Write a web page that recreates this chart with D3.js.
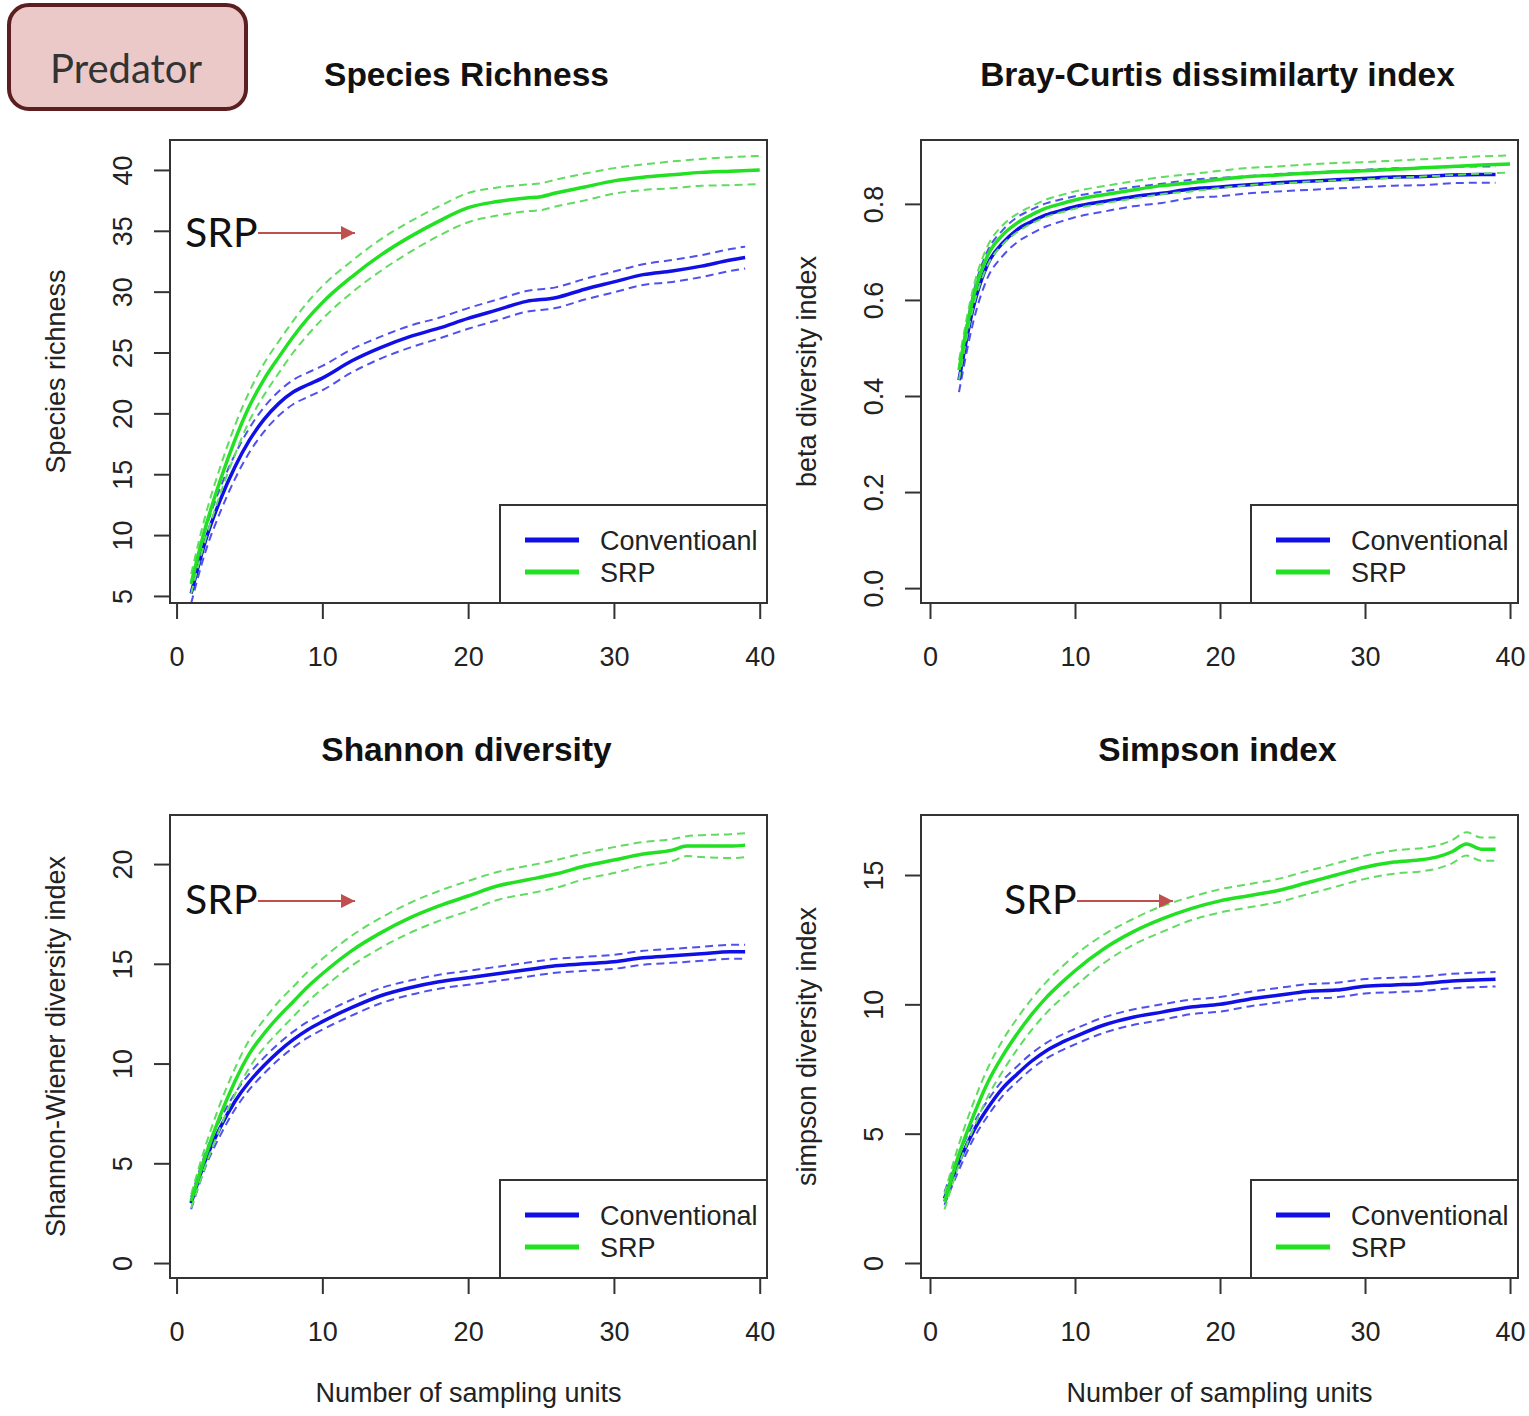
<!DOCTYPE html>
<html>
<head>
<meta charset="utf-8">
<script src="https://cdn.jsdelivr.net/npm/d3@7"></script>
<style>
  body { margin: 0; background: #fff; }
  svg { display: block; }
  text { font-family: "Liberation Sans", Arial, sans-serif; }
</style>
</head>
<body>
<svg width="1529" height="1416"></svg>
<script>
// ---- data (x = number of sampling units) ----
const xConv = [1,2,3,4,5,6,7,8,9,10,12,14,16,18,20,22,24,26,28,30,32,34,36,38,39];

// Species richness
const richConv   = [5.2,9.6,12.9,15.6,17.8,19.5,20.8,21.75,22.35,22.9,24.3,25.4,26.3,27.0,27.8,28.5,29.2,29.5,30.2,30.8,31.4,31.7,32.1,32.6,32.8];
const richConvCi = [0.8,0.9,1.0,1.0,1.0,1.0,1.0,1.0,1.0,1.0,0.95,0.9,0.9,0.85,0.85,0.85,0.85,0.85,0.85,0.85,0.85,0.9,0.9,0.9,0.9];
const richSrpX   = [1,2,3,4,5,6,7,8,9,10,12,14,16,18,20,22,24,25,26,28,30,32,34,36,38,40];
const richSrp    = [6.0,10.7,14.5,17.8,20.6,22.8,24.6,26.3,27.8,29.1,31.2,33.0,34.5,35.8,36.9,37.4,37.7,37.8,38.1,38.6,39.1,39.4,39.6,39.8,39.9,40.0];
const richSrpCi  = [0.8,1.0,1.1,1.2,1.2,1.3,1.3,1.3,1.35,1.35,1.3,1.3,1.25,1.2,1.2,1.15,1.1,1.1,1.1,1.1,1.05,1.05,1.1,1.1,1.15,1.15];

// Bray-Curtis (starts at 2 units)
const betaConvX  = [2,3,4,5,6,7,8,9,10,12,14,16,18,20,22,24,26,28,30,32,34,36,38,39];
const betaConv   = [0.433,0.586,0.676,0.718,0.746,0.763,0.777,0.786,0.794,0.805,0.815,0.822,0.831,0.835,0.840,0.844,0.847,0.850,0.853,0.856,0.857,0.860,0.861,0.861];
const betaConvCi = [0.025,0.03,0.028,0.027,0.026,0.025,0.024,0.023,0.022,0.021,0.02,0.02,0.019,0.019,0.018,0.018,0.018,0.018,0.018,0.018,0.018,0.017,0.017,0.017];
const betaSrpX   = [2,3,4,5,6,7,8,9,10,12,14,16,18,20,22,24,26,28,30,32,34,36,38,40];
const betaSrp    = [0.454,0.607,0.694,0.735,0.760,0.777,0.791,0.800,0.808,0.819,0.829,0.838,0.844,0.851,0.857,0.860,0.864,0.867,0.869,0.872,0.875,0.878,0.881,0.883];
const betaSrpCi  = [0.02,0.02,0.02,0.02,0.019,0.018,0.018,0.018,0.018,0.018,0.018,0.018,0.018,0.018,0.018,0.018,0.018,0.018,0.018,0.018,0.018,0.018,0.018,0.018];

// Shannon
const shanConv   = [3.0,5.2,6.8,8.1,9.1,9.9,10.6,11.2,11.7,12.1,12.8,13.4,13.8,14.1,14.3,14.5,14.7,14.9,15.0,15.1,15.3,15.4,15.5,15.6,15.6];
const shanConvCi = [0.3,0.35,0.4,0.4,0.4,0.4,0.4,0.4,0.4,0.4,0.4,0.38,0.36,0.35,0.35,0.35,0.35,0.35,0.35,0.35,0.35,0.35,0.35,0.35,0.35];
const shanSrpX   = [1,2,3,4,5,6,7,8,9,10,12,14,16,18,20,22,24,26,28,30,32,34,35,36,38,39];
const shanSrp    = [3.1,5.4,7.4,9.1,10.5,11.5,12.35,13.1,13.85,14.5,15.65,16.55,17.3,17.9,18.4,18.9,19.2,19.5,19.9,20.2,20.5,20.7,20.9,20.9,20.9,20.95];
const shanSrpCi  = [0.35,0.5,0.6,0.65,0.7,0.7,0.75,0.75,0.75,0.75,0.75,0.75,0.75,0.75,0.75,0.7,0.7,0.7,0.65,0.65,0.6,0.55,0.5,0.55,0.6,0.6];

// Simpson
const simpConv   = [2.5,3.9,5.1,6.0,6.75,7.3,7.8,8.2,8.5,8.75,9.2,9.5,9.7,9.9,10.0,10.2,10.35,10.5,10.55,10.7,10.75,10.8,10.9,10.95,10.97];
const simpConvCi = [0.25,0.3,0.3,0.3,0.3,0.3,0.3,0.3,0.3,0.3,0.3,0.3,0.3,0.28,0.28,0.28,0.28,0.28,0.28,0.28,0.28,0.28,0.28,0.28,0.28];
const simpSrpX   = [1,2,3,4,5,6,7,8,9,10,12,14,16,18,20,22,24,26,28,30,32,34,35,36,37,38,39];
const simpSrp    = [2.37,4.2,5.7,7.0,8.0,8.85,9.6,10.25,10.8,11.3,12.15,12.8,13.3,13.7,14.0,14.2,14.4,14.7,15.0,15.3,15.5,15.6,15.7,15.9,16.2,16.0,16.0];
const simpSrpCi  = [0.3,0.4,0.5,0.55,0.6,0.6,0.6,0.6,0.6,0.6,0.55,0.5,0.5,0.45,0.45,0.45,0.45,0.45,0.45,0.45,0.45,0.45,0.45,0.45,0.45,0.45,0.45];

const xTicks = [0,10,20,30,40];
const legendConvNames = ["Conventioanl","Conventional","Conventional","Conventional"];

const blue = "#1010e6", blueDash = "#5050ee";
const green = "#22e022", greenDash = "#60dc60";

function zip(xs, ys) { return xs.map((x, i) => [x, ys[i]]); }

const panels = [
  { title: "Species Richness", ylab: "Species richness", left: 170, top: 140,
    xDom: [-0.45, 40.5], yDom: [4.42, 42.46], yTicks: [5,10,15,20,25,30,35,40], fmt: d3.format("d"),
    conv: [xConv, richConv, richConvCi], srp: [richSrpX, richSrp, richSrpCi],
    legend: legendConvNames[0], arrow: { tx: 185, ty: 247, x1: 258, x2: 355, y: 233 }, xlab: false },
  { title: "Bray-Curtis dissimilarty index", ylab: "beta diversity index", left: 921, top: 140,
    xDom: [-0.62, 40.55], yDom: [-0.031, 0.933], yTicks: [0,0.2,0.4,0.6,0.8], fmt: d3.format(".1f"),
    conv: [betaConvX, betaConv, betaConvCi], srp: [betaSrpX, betaSrp, betaSrpCi],
    legend: legendConvNames[1], arrow: null, xlab: false },
  { title: "Shannon diversity", ylab: "Shannon-Wiener diversity index", left: 170, top: 815,
    xDom: [-0.45, 40.5], yDom: [-0.75, 22.46], yTicks: [0,5,10,15,20], fmt: d3.format("d"),
    conv: [xConv, shanConv, shanConvCi], srp: [shanSrpX, shanSrp, shanSrpCi],
    legend: legendConvNames[2], arrow: { tx: 185, ty: 914, x1: 258, x2: 355, y: 901 }, xlab: true },
  { title: "Simpson index", ylab: "simpson diversity index", left: 921, top: 815,
    xDom: [-0.62, 40.55], yDom: [-0.58, 17.32], yTicks: [0,5,10,15], fmt: d3.format("d"),
    conv: [xConv, simpConv, simpConvCi], srp: [simpSrpX, simpSrp, simpSrpCi],
    legend: legendConvNames[3], arrow: { tx: 1004, ty: 914, x1: 1077, x2: 1173, y: 901 }, xlab: true }
];

const plotW = 597, plotH = 463;
const svg = d3.select("svg");

// arrow marker for the SRP call-outs
svg.append("defs").append("marker")
    .attr("id", "head").attr("viewBox", "0 0 10 10")
    .attr("refX", 10).attr("refY", 5)
    .attr("markerWidth", 16).attr("markerHeight", 14)
    .attr("markerUnits", "userSpaceOnUse")
    .attr("orient", "auto")
  .append("path").attr("d", "M0,0L10,5L0,10Z").attr("fill", "#c0504d");

// "Predator" badge
svg.append("rect")
    .attr("x", 9).attr("y", 5).attr("width", 237).attr("height", 104)
    .attr("rx", 20).attr("fill", "#ecc9c9")
    .attr("stroke", "#5c1f1f").attr("stroke-width", 4);
svg.append("text")
    .attr("x", 126).attr("y", 83)
    .attr("text-anchor", "middle")
    .style("font-family", "Lato, 'Open Sans', sans-serif")
    .style("font-size", "40px").attr("fill", "#333")
    .text("Predator");

panels.forEach(p => {
  const g = svg.append("g").attr("transform", "translate(" + p.left + "," + p.top + ")");
  const x = d3.scaleLinear().domain(p.xDom).range([0, plotW]);
  const y = d3.scaleLinear().domain(p.yDom).range([plotH, 0]);
  const cx = plotW / 2;

  // title
  g.append("text")
      .attr("x", cx - 2).attr("y", -54)
      .attr("text-anchor", "middle")
      .style("font-size", "33.5px").style("font-weight", "bold").attr("fill", "#111")
      .text(p.title);

  // curves
  const line = d3.line().x(d => x(d[0])).y(d => y(d[1])).curve(d3.curveMonotoneX);
  const drawSeries = (s, col, dashCol) => {
    const [xs, m, ci] = s;
    const up = m.map((v, i) => v + ci[i]);
    const lo = m.map((v, i) => v - ci[i]);
    [up, lo].forEach(arr => {
      g.append("path").datum(zip(xs, arr))
          .attr("d", line).attr("fill", "none")
          .attr("stroke", dashCol).attr("stroke-width", 2)
          .attr("stroke-dasharray", "8,5");
    });
    g.append("path").datum(zip(xs, m))
        .attr("d", line).attr("fill", "none")
        .attr("stroke", col).attr("stroke-width", 3.5);
  };
  drawSeries(p.conv, blue, blueDash);
  drawSeries(p.srp, green, greenDash);

  // x axis
  const xa = g.append("g").attr("transform", "translate(0," + plotH + ")")
      .call(d3.axisBottom(x).tickValues(xTicks).tickSize(16).tickPadding(0));
  xa.select(".domain").remove();
  xa.selectAll(".tick line").attr("stroke", "#333").attr("stroke-width", 2);
  xa.selectAll(".tick text")
      .attr("y", 63).attr("dy", null)
      .attr("fill", "#222").style("font-size", "27px");

  // y axis with labels parallel to the axis
  const ya = g.append("g")
      .call(d3.axisLeft(y).tickValues(p.yTicks).tickFormat(p.fmt).tickSize(16));
  ya.select(".domain").remove();
  ya.selectAll(".tick line").attr("stroke", "#333").attr("stroke-width", 2);
  ya.selectAll(".tick text")
      .attr("x", null).attr("dy", null)
      .attr("transform", "translate(-38,0) rotate(-90)")
      .attr("text-anchor", "middle")
      .attr("fill", "#222").style("font-size", "27px");

  // y label
  g.append("text")
      .attr("transform", "translate(-105," + plotH / 2 + ") rotate(-90)")
      .attr("text-anchor", "middle")
      .attr("fill", "#222").style("font-size", "27px")
      .text(p.ylab);

  if (p.xlab) {
    g.append("text")
        .attr("x", cx).attr("y", plotH + 124)
        .attr("text-anchor", "middle")
        .attr("fill", "#222").style("font-size", "27px")
        .text("Number of sampling units");
  }

  // legend
  const lg = g.append("g").attr("transform", "translate(" + (plotW - 267) + "," + (plotH - 98) + ")");
  lg.append("rect").attr("width", 267).attr("height", 98)
      .attr("fill", "#fff").attr("stroke", "#333").attr("stroke-width", 2);
  [[p.legend, blue, 35], ["SRP", green, 67]].forEach(([label, col, ly]) => {
    lg.append("line").attr("x1", 25).attr("x2", 79).attr("y1", ly).attr("y2", ly)
        .attr("stroke", col).attr("stroke-width", 5);
    lg.append("text").attr("x", 100).attr("y", ly + 10)
        .attr("fill", "#222").style("font-size", "27px").text(label);
  });

  // plot box
  g.append("rect").attr("width", plotW).attr("height", plotH)
      .attr("fill", "none").attr("stroke", "#333").attr("stroke-width", 2);

  // SRP call-out
  if (p.arrow) {
    const a = p.arrow;
    svg.append("text")
        .attr("x", a.tx).attr("y", a.ty)
        .style("font-family", "Lato, 'Open Sans', sans-serif")
        .style("font-size", "41px").attr("fill", "#111")
        .text("SRP");
    svg.append("line")
        .attr("x1", a.x1).attr("x2", a.x2).attr("y1", a.y).attr("y2", a.y)
        .attr("stroke", "#c0504d").attr("stroke-width", 2)
        .attr("marker-end", "url(#head)");
  }
});
</script>
</body>
</html>
